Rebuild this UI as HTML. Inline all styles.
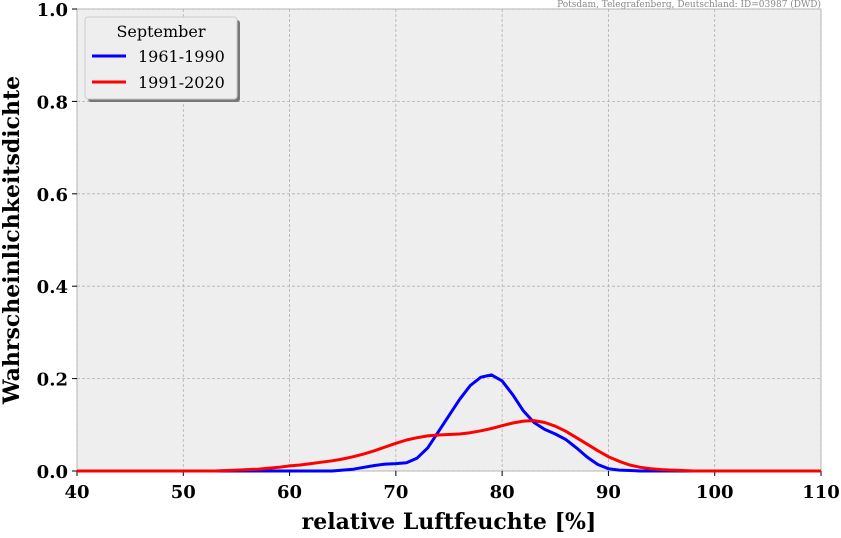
<!DOCTYPE html>
<html><head><meta charset="utf-8"><style>
body{margin:0;background:#fff;}
svg text{font-family:"DejaVu Serif","Liberation Serif",serif;}
</style></head><body>
<svg id="chart" width="841" height="533" xmlns="http://www.w3.org/2000/svg">
<rect x="77" y="9" width="744" height="462" fill="#eeeeee" stroke="#bbbbbb"/>
<g id="grid"></g><g id="ticks"></g><g id="series"></g>
<text x="821" y="7" font-size="9" fill="#888" text-anchor="end">Potsdam, Telegrafenberg, Deutschland: ID=03987 (DWD)</text>
<text x="449" y="529" font-size="22" font-weight="bold" text-anchor="middle">relative Luftfeuchte [%]</text>
<text transform="translate(19,240) rotate(-90)" font-size="22" font-weight="bold" text-anchor="middle">Wahrscheinlichkeitsdichte</text>
<g>
<rect x="88" y="20" width="152" height="82" rx="3" fill="#777"/>
<rect x="85" y="17" width="152" height="82" rx="3" fill="#eeeeee" stroke="#ccc"/>
<text x="161" y="37" font-size="16" text-anchor="middle">September</text>
<line x1="92" y1="56" x2="126" y2="56" stroke="#0000ff" stroke-width="3"/>
<text x="138" y="62" font-size="16">1961-1990</text>
<line x1="92" y1="82" x2="126" y2="82" stroke="#ff0000" stroke-width="3"/>
<text x="138" y="88" font-size="16">1991-2020</text>
</g>
</svg>
<script>
const xs=[];for(let v=40;v<=110;v++)xs.push(v);
const blue=[0,0,0,0,0,0,0,0,0,0, 0,0,0,0,0,0,0,0,0,0, 0,0,0,0,0,0.002,0.004,0.008,0.012,0.015, 0.016,0.018,0.028,0.05,0.085,0.12,0.155,0.185,0.203,0.208, 0.195,0.165,0.13,0.105,0.09,0.08,0.068,0.05,0.03,0.014, 0.005,0.002,0.001,0,0,0,0,0,0,0, 0,0,0,0,0,0,0,0,0,0,0];
const red=[0,0,0,0,0,0,0,0,0,0, 0,0,0,0,0.001,0.002,0.003,0.004,0.006,0.008, 0.011,0.013,0.016,0.019,0.022,0.026,0.031,0.037,0.044,0.052, 0.06,0.067,0.072,0.076,0.078,0.079,0.08,0.083,0.087,0.092, 0.098,0.104,0.108,0.109,0.105,0.097,0.086,0.072,0.058,0.044, 0.031,0.021,0.013,0.008,0.005,0.003,0.002,0.001,0,0, 0,0,0,0,0,0,0,0,0,0,0];
const xTicks=[40,50,60,70,80,90,100,110];
const yTicks=[0,0.2,0.4,0.6,0.8,1.0];
const X=v=>77+(v-40)/70*744, Y=d=>471-d*462;
const NS="http://www.w3.org/2000/svg";
const mk=(p,t,a)=>{const e=document.createElementNS(NS,t);for(const k in a)e.setAttribute(k,a[k]);document.getElementById(p).appendChild(e);return e;};
xTicks.forEach(v=>{
 const g=mk('grid','line',{x1:X(v),x2:X(v),y1:9,y2:471,stroke:'#b0b0b0','stroke-dasharray':'3,2','stroke-width':0.8});
 
 
 mk('ticks','line',{x1:X(v),x2:X(v),y1:471,y2:476,stroke:'#000'});
 const t=mk('ticks','text',{x:X(v),y:498,'font-size':18,'font-weight':'bold','text-anchor':'middle'});
 t.textContent=v;
 
 
});
yTicks.forEach(v=>{
 const g=mk('grid','line',{x1:77,x2:821,y1:Y(v),y2:Y(v),stroke:'#b0b0b0','stroke-dasharray':'3,2','stroke-width':0.8});
 
 
 mk('ticks','line',{x1:72,x2:77,y1:Y(v),y2:Y(v),stroke:'#000'});
 const t=mk('ticks','text',{x:68,y:Y(v)+7,'font-size':18,'font-weight':'bold','text-anchor':'end'});
 t.textContent=v.toFixed(1);
 
 
});
function path(arr){let d='';arr.forEach((v,i)=>{d+=(i?'L':'M')+X(xs[i]).toFixed(1)+','+Y(v).toFixed(1);});return d;}
const pb=mk('series','path',{d:path(blue),fill:'none',stroke:'#0000ff','stroke-width':3,'stroke-linejoin':'round'});


const pr=mk('series','path',{d:path(red),fill:'none',stroke:'#ff0000','stroke-width':3,'stroke-linejoin':'round'});


</script>
</body></html>
